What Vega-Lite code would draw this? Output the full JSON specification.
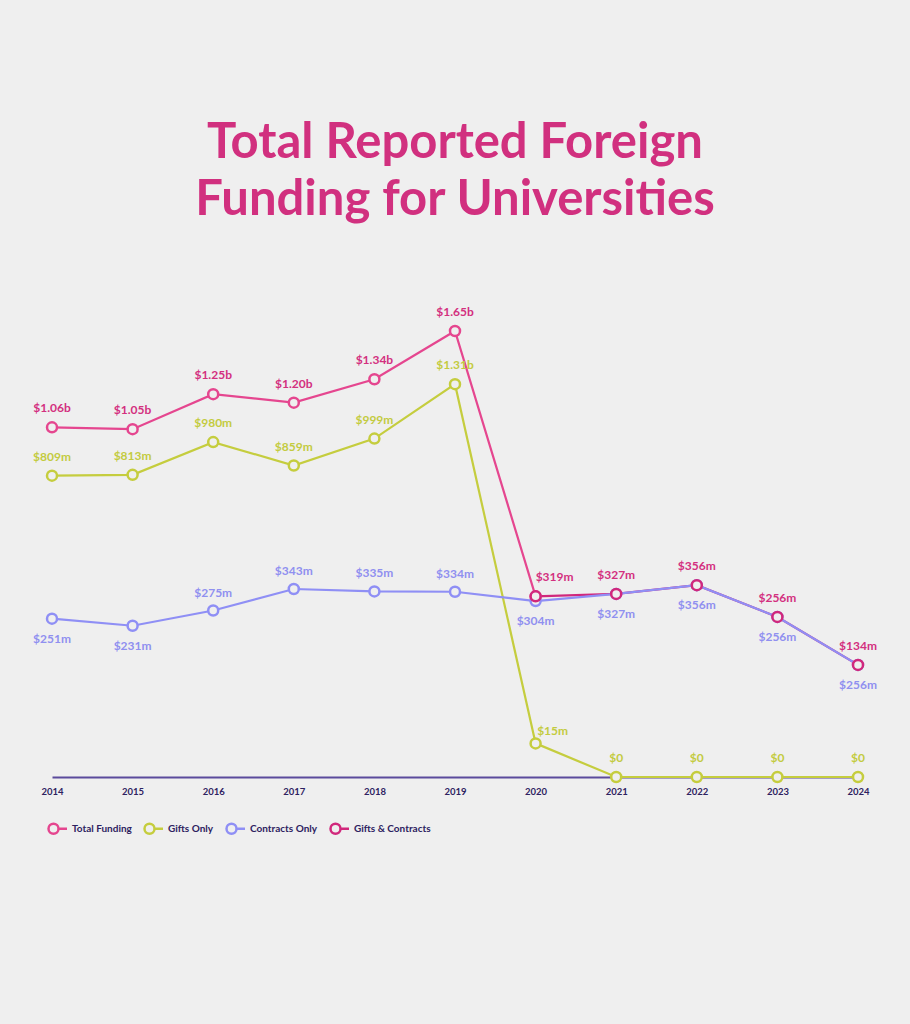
{
  "$schema": "https://vega.github.io/schema/vega-lite/v6.json",
  "width": 806,
  "height": 446,
  "autosize": "none",
  "padding": {"left": 52, "top": 331, "right": 52, "bottom": 247},
  "background": "#efefef",
  "view": {"stroke": null},
  "title": {
    "text": ["Total Reported Foreign", "Funding for Universities"],
    "font": "Lato",
    "fontSize": 49,
    "fontWeight": 700,
    "color": "#d1307f",
    "lineHeight": 57,
    "anchor": "middle",
    "frame": "group",
    "offset": 81
  },
  "config": {
    "legend": {
      "orient": "none",
      "legendX": -5,
      "legendY": 491,
      "direction": "horizontal",
      "title": null,
      "symbolType": "M-1,0A1,1,0,1,1,1,0A1,1,0,1,1,-1,0M1,0L2.7,0",
      "symbolSize": 100,
      "symbolStrokeWidth": 2.5,
      "symbolFillColor": "#efefef",
      "labelFont": "Lato",
      "labelFontSize": 10,
      "labelFontWeight": "bold",
      "labelColor": "#2d2160",
      "labelOffset": 12,
      "columnPadding": 7
    }
  },
  "data": {
    "values": [
      {"year": "2014", "series": "Total Funding", "value": 1060, "label": "$1.06b"},
      {"year": "2015", "series": "Total Funding", "value": 1050, "label": "$1.05b"},
      {"year": "2016", "series": "Total Funding", "value": 1250, "label": "$1.25b"},
      {"year": "2017", "series": "Total Funding", "value": 1200, "label": "$1.20b"},
      {"year": "2018", "series": "Total Funding", "value": 1340, "label": "$1.34b"},
      {"year": "2019", "series": "Total Funding", "value": 1650, "label": "$1.65b"},
      {"year": "2020", "series": "Total Funding", "value": 319, "label": "$319m"},
      {"year": "2014", "series": "Gifts Only", "value": 809, "label": "$809m"},
      {"year": "2015", "series": "Gifts Only", "value": 813, "label": "$813m"},
      {"year": "2016", "series": "Gifts Only", "value": 980, "label": "$980m"},
      {"year": "2017", "series": "Gifts Only", "value": 859, "label": "$859m"},
      {"year": "2018", "series": "Gifts Only", "value": 999, "label": "$999m"},
      {"year": "2019", "series": "Gifts Only", "value": 1310, "label": "$1.31b"},
      {"year": "2020", "series": "Gifts Only", "value": 15, "label": "$15m"},
      {"year": "2021", "series": "Gifts Only", "value": 0, "label": "$0"},
      {"year": "2022", "series": "Gifts Only", "value": 0, "label": "$0"},
      {"year": "2023", "series": "Gifts Only", "value": 0, "label": "$0"},
      {"year": "2024", "series": "Gifts Only", "value": 0, "label": "$0"},
      {"year": "2014", "series": "Contracts Only", "value": 251, "label": "$251m"},
      {"year": "2015", "series": "Contracts Only", "value": 231, "label": "$231m"},
      {"year": "2016", "series": "Contracts Only", "value": 275, "label": "$275m"},
      {"year": "2017", "series": "Contracts Only", "value": 343, "label": "$343m"},
      {"year": "2018", "series": "Contracts Only", "value": 335, "label": "$335m"},
      {"year": "2019", "series": "Contracts Only", "value": 334, "label": "$334m"},
      {"year": "2020", "series": "Contracts Only", "value": 304, "label": "$304m"},
      {"year": "2021", "series": "Contracts Only", "value": 327, "label": "$327m"},
      {"year": "2022", "series": "Contracts Only", "value": 356, "label": "$356m"},
      {"year": "2023", "series": "Contracts Only", "value": 256, "label": "$256m"},
      {"year": "2024", "series": "Contracts Only", "value": 134, "label": "$256m"},
      {"year": "2020", "series": "Gifts & Contracts", "value": 319, "label": "$319m"},
      {"year": "2021", "series": "Gifts & Contracts", "value": 327, "label": "$327m"},
      {"year": "2022", "series": "Gifts & Contracts", "value": 356, "label": "$356m"},
      {"year": "2023", "series": "Gifts & Contracts", "value": 256, "label": "$256m"},
      {"year": "2024", "series": "Gifts & Contracts", "value": 134, "label": "$134m"}
    ]
  },
  "encoding": {
    "x": {
      "field": "year",
      "type": "ordinal",
      "scale": {"type": "point", "padding": 0},
      "axis": {
        "title": null,
        "labelAngle": 0,
        "ticks": false,
        "grid": false,
        "domainColor": "#5b4b9c",
        "domainWidth": 2,
        "labelFont": "Lato",
        "labelFontSize": 9.5,
        "labelFontWeight": "bold",
        "labelColor": "#2d2160",
        "labelPadding": 9
      }
    },
    "y": {
      "field": "value",
      "type": "quantitative",
      "scale": {"type": "pow", "exponent": 0.55, "domain": [0, 1650], "nice": false, "zero": true},
      "axis": null
    },
    "color": {
      "field": "series",
      "type": "nominal",
      "scale": {"domain": ["Total Funding", "Gifts Only", "Contracts Only", "Gifts & Contracts"], "range": ["#e5468f", "#c5cd3e", "#8f8ff5", "#d1287c"]},
      "legend": {"symbolType": "M-1,0A1,1,0,1,1,1,0A1,1,0,1,1,-1,0M1,0L2.7,0", "symbolFillColor": "#efefef", "symbolStrokeWidth": 2.5}
    }
  },
  "layer": [
    {
      "transform": [{"filter": "datum.series !== 'Contracts Only'"}],
      "mark": {"type": "line", "strokeWidth": 2.2}
    },
    {
      "transform": [{"filter": "datum.series === 'Contracts Only'"}],
      "mark": {"type": "line", "strokeWidth": 2.2}
    },
    {
      "mark": {"type": "point", "shape": "circle", "filled": false, "fill": "#efefef", "fillOpacity": 1, "opacity": 1, "size": 100, "strokeWidth": 2.5}
    },
    {
      "transform": [{"filter": "(datum.series === 'Total Funding' && datum.year !== '2020') || (datum.series === 'Gifts & Contracts' && datum.year !== '2020')"}],
      "mark": {"type": "text", "dy": -19, "font": "Lato", "fontSize": 12, "fontWeight": "bold", "baseline": "middle"},
      "encoding": {"text": {"field": "label"}, "color": {"value": "#d3307f"}}
    },
    {
      "transform": [{"filter": "datum.series === 'Gifts & Contracts' && datum.year === '2020'"}],
      "mark": {"type": "text", "dy": -19, "dx": 19, "font": "Lato", "fontSize": 12, "fontWeight": "bold", "baseline": "middle"},
      "encoding": {"text": {"field": "label"}, "color": {"value": "#d3307f"}}
    },
    {
      "transform": [{"filter": "datum.series === 'Gifts Only' && datum.year !== '2020'"}],
      "mark": {"type": "text", "dy": -19, "font": "Lato", "fontSize": 12, "fontWeight": "bold", "baseline": "middle"},
      "encoding": {"text": {"field": "label"}, "color": {"value": "#c3cb3f"}}
    },
    {
      "transform": [{"filter": "datum.series === 'Gifts Only' && datum.year === '2020'"}],
      "mark": {"type": "text", "dy": -12, "dx": 17, "font": "Lato", "fontSize": 12, "fontWeight": "bold", "baseline": "middle"},
      "encoding": {"text": {"field": "label"}, "color": {"value": "#c3cb3f"}}
    },
    {
      "transform": [{"filter": "datum.series === 'Contracts Only' && (datum.year === '2016' || datum.year === '2017' || datum.year === '2018' || datum.year === '2019')"}],
      "mark": {"type": "text", "dy": -18, "font": "Lato", "fontSize": 12, "fontWeight": "bold", "baseline": "middle"},
      "encoding": {"text": {"field": "label"}, "color": {"value": "#9090f0"}}
    },
    {
      "transform": [{"filter": "datum.series === 'Contracts Only' && !(datum.year === '2016' || datum.year === '2017' || datum.year === '2018' || datum.year === '2019')"}],
      "mark": {"type": "text", "dy": 20, "font": "Lato", "fontSize": 12, "fontWeight": "bold", "baseline": "middle"},
      "encoding": {"text": {"field": "label"}, "color": {"value": "#9090f0"}}
    }
  ]
}
